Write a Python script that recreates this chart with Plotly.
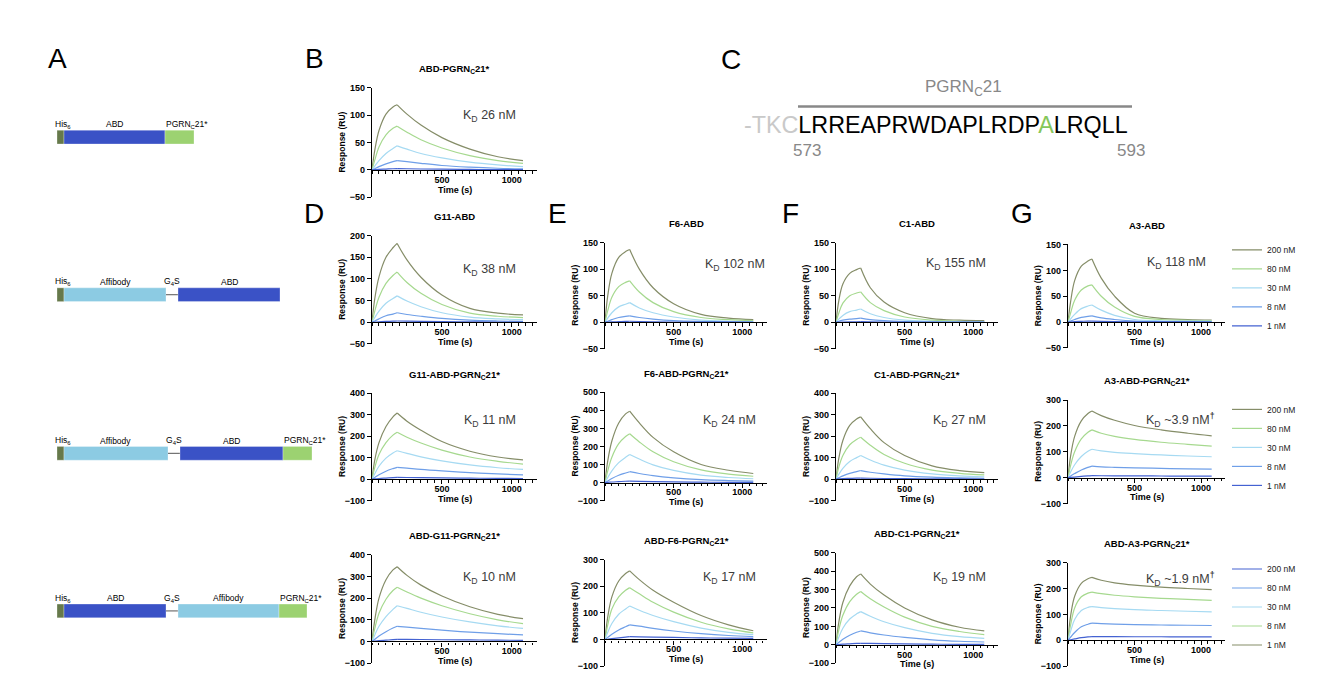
import plotly.graph_objects as go

# ---------------- DATA ----------------
TIME = [0, 20, 50, 100, 150, 180, 250, 350, 500, 700, 900, 1080]
CONC = ["200 nM", "80 nM", "30 nM", "8 nM", "1 nM"]
CONC_G4_LEGEND = ["1 nM", "8 nM", "30 nM", "80 nM", "200 nM"]  # as labelled in the original (reversed colours)

ABD_PGRN21 = [
    [0, 36, 72, 102, 115, 119, 102, 82, 59, 38, 24, 17],
    [0, 18, 42, 64, 76, 80, 69, 55, 40, 26, 17, 12],
    [0, 7, 17, 30, 39, 44, 38, 30, 22, 14, 9, 6],
    [0, 2, 6, 11, 15, 17, 15, 12, 8, 5, 3, 2],
    [0, 0.5, 1, 1.5, 2, 2.3, 2, 1.6, 1.2, 0.8, 0.5, 0.3],
]
G11_ABD = [
    [0, 55, 105, 150, 172, 182, 144, 104, 63, 32, 21, 17],
    [0, 26, 58, 90, 108, 116, 92, 67, 41, 21, 14, 11],
    [0, 11, 26, 44, 55, 61, 49, 36, 22, 12, 8, 6],
    [0, 3, 8, 15, 19, 22, 18, 14, 9, 5, 3, 2],
    [0, 0.5, 1, 2, 2.5, 3, 2.5, 2, 1.5, 1, 0.7, 0.5],
]
F6_ABD = [
    [0, 50, 92, 122, 133, 137, 100, 65, 35, 15, 8, 5],
    [0, 22, 47, 67, 75, 78, 57, 37, 20, 9, 5, 3],
    [0, 8, 18, 29, 34, 37, 27, 18, 10, 4, 2, 1.5],
    [0, 2, 5, 9, 11, 12, 9, 6, 3, 1.5, 1, 0.5],
    [0, 0.3, 0.7, 1.2, 1.6, 2, 1.5, 1, 0.6, 0.3, 0.2, 0.1],
]
C1_ABD = [
    [0, 40, 72, 92, 99, 102, 65, 38, 18, 7, 4, 3],
    [0, 17, 36, 50, 55, 57, 37, 22, 10, 4, 2, 1.5],
    [0, 6, 13, 20, 23, 25, 16, 9, 4, 2, 1, 0.7],
    [0, 2, 4, 6, 7, 8, 5, 3, 1.5, 0.7, 0.4, 0.3],
    [0, 0.3, 0.6, 0.9, 1, 1.1, 0.7, 0.4, 0.2, 0.1, 0.1, 0.1],
]
A3_ABD = [
    [0, 40, 80, 108, 118, 122, 85, 50, 17, 7, 5, 4],
    [0, 18, 42, 62, 70, 72, 50, 29, 11, 5, 3.5, 3],
    [0, 6, 15, 26, 31, 33, 23, 13, 5, 2.5, 2, 1.5],
    [0, 2, 5, 9, 11, 12, 8, 5, 2, 1, 0.8, 0.6],
    [0, 0.3, 0.8, 1.4, 1.8, 2, 1.4, 0.8, 0.4, 0.2, 0.2, 0.1],
]
G11_ABD_PGRN21 = [
    [0, 90, 170, 245, 290, 308, 270, 228, 175, 130, 103, 90],
    [0, 55, 115, 170, 205, 218, 195, 168, 135, 103, 83, 70],
    [0, 25, 60, 98, 122, 132, 120, 104, 85, 66, 53, 45],
    [0, 8, 20, 37, 49, 55, 51, 45, 38, 30, 24, 20],
    [0, 1, 3, 5, 7, 8, 7.5, 7, 6, 4.5, 3.5, 3],
]
F6_ABD_PGRN21 = [
    [0, 120, 230, 330, 380, 395, 330, 250, 170, 100, 68, 50],
    [0, 65, 140, 215, 255, 270, 225, 170, 115, 70, 47, 35],
    [0, 28, 65, 110, 140, 155, 130, 98, 67, 41, 28, 21],
    [0, 9, 22, 40, 53, 60, 50, 38, 26, 16, 11, 8],
    [0, 1, 3, 5, 7, 8, 7, 5, 3.5, 2, 1.5, 1],
]
C1_ABD_PGRN21 = [
    [0, 95, 180, 250, 280, 290, 235, 170, 110, 62, 40, 30],
    [0, 55, 110, 160, 185, 195, 158, 115, 74, 42, 27, 20],
    [0, 22, 50, 82, 100, 110, 89, 65, 42, 24, 15, 11],
    [0, 6, 15, 27, 35, 40, 32, 24, 15, 9, 6, 4],
    [0, 0.8, 2, 3.5, 4.5, 5, 4, 3, 2, 1.2, 0.8, 0.5],
]
A3_ABD_PGRN21 = [
    [0, 85, 160, 220, 248, 258, 240, 222, 202, 185, 172, 162],
    [0, 48, 100, 150, 176, 185, 172, 160, 148, 137, 129, 122],
    [0, 22, 50, 82, 102, 110, 104, 98, 93, 88, 84, 81],
    [0, 7, 16, 30, 40, 45, 42, 40, 38, 36, 34, 33],
    [0, 1, 2.5, 5, 7, 8, 7.5, 7, 7, 6.5, 6, 6],
]
ABD_G11_PGRN21 = [
    [0, 100, 200, 285, 330, 345, 305, 260, 210, 160, 125, 105],
    [0, 60, 130, 195, 235, 250, 228, 200, 165, 128, 100, 82],
    [0, 30, 70, 115, 148, 165, 153, 135, 113, 90, 72, 60],
    [0, 10, 25, 45, 62, 70, 66, 60, 52, 43, 36, 30],
    [0, 1.5, 3.5, 6, 8.5, 10, 9.5, 9, 8, 7, 6, 5],
]
ABD_F6_PGRN21 = [
    [0, 85, 160, 220, 248, 258, 225, 185, 140, 90, 55, 33],
    [0, 55, 115, 160, 185, 195, 172, 140, 103, 65, 40, 25],
    [0, 27, 60, 95, 115, 126, 110, 90, 67, 43, 27, 18],
    [0, 8, 20, 36, 48, 55, 50, 42, 32, 22, 15, 11],
    [0, 1, 3, 6, 9, 11, 10, 9, 8, 6, 5, 4],
]
ABD_C1_PGRN21 = [
    [0, 120, 230, 320, 370, 385, 330, 270, 200, 135, 95, 75],
    [0, 80, 160, 235, 275, 290, 250, 205, 150, 100, 72, 55],
    [0, 40, 90, 140, 168, 180, 155, 125, 93, 62, 44, 35],
    [0, 12, 30, 52, 68, 75, 65, 53, 40, 27, 19, 15],
    [0, 1, 3, 5, 7, 8, 7, 6, 4.5, 3, 2.5, 2],
]
ABD_A3_PGRN21 = [
    [0, 95, 170, 220, 238, 243, 232, 222, 213, 205, 200, 196],
    [0, 60, 125, 168, 182, 186, 180, 174, 168, 162, 158, 154],
    [0, 35, 80, 115, 127, 130, 126, 122, 118, 115, 112, 110],
    [0, 12, 30, 52, 62, 66, 64, 62, 60, 59, 58, 57],
    [0, 2, 5, 10, 13, 14, 14, 14, 13.5, 13.5, 13, 13],
]

TITLES = ["ABD-PGRN<sub>C</sub>21*", "G11-ABD", "F6-ABD", "C1-ABD", "A3-ABD",
          "G11-ABD-PGRN<sub>C</sub>21*", "F6-ABD-PGRN<sub>C</sub>21*", "C1-ABD-PGRN<sub>C</sub>21*",
          "A3-ABD-PGRN<sub>C</sub>21*", "ABD-G11-PGRN<sub>C</sub>21*", "ABD-F6-PGRN<sub>C</sub>21*",
          "ABD-C1-PGRN<sub>C</sub>21*", "ABD-A3-PGRN<sub>C</sub>21*"]
KD_TEXT = ["26 nM", "38 nM", "102 nM", "155 nM", "118 nM", "11 nM", "24 nM", "27 nM",
           "~3.9 nM<b><sup>†</sup></b>", "10 nM", "17 nM", "19 nM", "~1.9 nM<b><sup>†</sup></b>"]
DATASETS = [ABD_PGRN21, G11_ABD, F6_ABD, C1_ABD, A3_ABD, G11_ABD_PGRN21, F6_ABD_PGRN21,
            C1_ABD_PGRN21, A3_ABD_PGRN21, ABD_G11_PGRN21, ABD_F6_PGRN21, ABD_C1_PGRN21, ABD_A3_PGRN21]
Y_RANGES = [(-50, 150), (-50, 200), (-50, 150), (-50, 150), (-50, 150),
            (-100, 400), (-100, 500), (-100, 400), (-100, 300),
            (-100, 400), (-100, 300), (-100, 500), (-100, 300)]
Y_DTICK = [50, 50, 50, 50, 50, 100, 100, 100, 100, 100, 100, 100, 100]

# ---------------- LAYOUT / STYLE ----------------
W, H = 1320, 685          # target picture in pixels
OFF = 8                   # page body margin
FW, FH = W - 2 * OFF, H - 2 * OFF
FONT = "Arial, 'Liberation Sans', Helvetica, sans-serif"
COLORS = ["#858d68", "#a6d98f", "#a6daf2", "#6f9fe8", "#4462d2"]
COL_X = {"D": (372, 537), "E": (605, 767), "F": (836, 998), "G": (1068, 1225)}
# (column, top px, bottom px, KD right px, KD y px)
BOXES = [("D", 84, 195, 518, 113),
         ("D", 234, 344, 518, 269), ("E", 241, 349, 767, 264), ("F", 241, 349, 988, 263), ("G", 243, 348, 1208, 262),
         ("D", 394, 503, 518, 422), ("E", 393, 503, 758, 422), ("F", 394, 503, 988, 422), ("G", 401, 506, 1217, 421),
         ("D", 558, 668, 518, 582), ("E", 563, 671, 758, 582), ("F", 556, 668, 988, 582), ("G", 566, 671, 1217, 583)]
LEGEND_OF = {4: "legend", 8: "legend2", 12: "legend3"}


def px(x):
    return (x - OFF) / FW


def py(y):
    return 1 - (y - OFF) / FH


def ann(text, x, y, size, color="black", bold=False, xanchor="center", yanchor="middle", angle=0):
    return dict(text=text, x=px(x), y=py(y), xref="paper", yref="paper", showarrow=False,
                font=dict(family=FONT, size=size, color=color, weight="bold" if bold else "normal"),
                xanchor=xanchor, yanchor=yanchor, textangle=angle)


fig = go.Figure()
layout = dict(width=FW, height=FH, margin=dict(l=0, r=0, t=0, b=0), plot_bgcolor="white",
              paper_bgcolor="white", font=dict(family=FONT, color="black"), showlegend=True)
annotations = []
shapes = []

for i, data in enumerate(DATASETS):
    n = i + 1
    col, top, bot, kdx, kdy = BOXES[i]
    x0, x1 = COL_X[col]
    ymin, ymax = Y_RANGES[i]
    yd = [py(bot), py(top)]
    xpos = yd[0] + (0 - ymin) / (ymax - ymin) * (yd[1] - yd[0])
    xa = "xaxis" if n == 1 else f"xaxis{n}"
    ya = "yaxis" if n == 1 else f"yaxis{n}"
    xr = "x" if n == 1 else f"x{n}"
    yr = "y" if n == 1 else f"y{n}"
    layout[xa] = dict(domain=[px(x0), px(x1)], range=[0, 1180], anchor="free", position=xpos,
                      showline=True, linecolor="black", linewidth=1.3, ticks="outside", ticklen=4,
                      tickwidth=1.3, tickcolor="black", tickmode="array", tickvals=[500, 1000],
                      ticklabelstandoff=-3,
                      minor=dict(ticks="outside", tickmode="linear", tick0=0, dtick=50, ticklen=2.5,
                                 tickwidth=1, tickcolor="black", showgrid=False),
                      showgrid=False, zeroline=False,
                      tickfont=dict(family=FONT, size=9, weight="bold", color="black"))
    layout[ya] = dict(domain=yd, range=[ymin, ymax], anchor=xr, showline=True, linecolor="black",
                      linewidth=1.3, ticks="outside", ticklen=4, tickwidth=1.3, tickcolor="black",
                      tickmode="linear", tick0=0, dtick=Y_DTICK[i], showgrid=False, zeroline=False,
                      tickfont=dict(family=FONT, size=9, weight="bold", color="black"))
    names = CONC_G4_LEGEND if n == 13 else CONC
    for k, series in enumerate(data):
        show = i in LEGEND_OF
        legend_name = LEGEND_OF.get(i, "legend")
        fig.add_trace(go.Scatter(x=TIME[:6], y=series[:6], xaxis=xr, yaxis=yr, mode="lines",
                                 line=dict(color=COLORS[k], width=1.2, shape="spline"),
                                 name=names[k], showlegend=show, legend=legend_name,
                                 legendgroup=f"p{n}c{k}", hoverinfo="skip"))
        fig.add_trace(go.Scatter(x=TIME[5:], y=series[5:], xaxis=xr, yaxis=yr, mode="lines",
                                 line=dict(color=COLORS[k], width=1.2, shape="spline"),
                                 name=names[k], showlegend=False, legend=legend_name,
                                 legendgroup=f"p{n}c{k}", hoverinfo="skip"))
    zero_px = bot - (0 - ymin) / (ymax - ymin) * (bot - top)
    annotations.append(ann(TITLES[i], (x0 + x1) / 2, top - 19, 9.5, bold=True))
    annotations.append(ann("K<sub>D</sub> " + KD_TEXT[i], kdx, kdy, 12.5, color="#3c3c3c", xanchor="right"))
    annotations.append(ann("Response (RU)", x0 - 30, (top + bot) / 2, 8.5, bold=True, angle=-90))
    annotations.append(ann("Time (s)", (x0 + x1) / 2, zero_px + 20, 9, bold=True))

legend_common = dict(font=dict(family=FONT, size=8.5, color="#222"), bgcolor="rgba(0,0,0,0)",
                     borderwidth=0, itemwidth=30, xanchor="left", yanchor="middle", x=px(1227),
                     itemclick=False, itemdoubleclick=False)
layout["legend"] = dict(legend_common, y=py(287), traceorder="normal")
layout["legend2"] = dict(legend_common, y=py(449), traceorder="normal")
layout["legend3"] = dict(legend_common, y=py(611), traceorder="reversed")

# panel letters
for letter, x, y in [("A", 57, 54), ("B", 314, 54), ("C", 731, 55), ("D", 314, 212),
                     ("E", 557, 212), ("F", 790, 212), ("G", 1022, 212)]:
    annotations.append(ann(letter, x, y, 28))

# panel A: construct diagrams
HIS_C, ABD_C, AFF_C, PG_C = "#66794b", "#3a52c6", "#8ccbe3", "#9cd271"
CONSTRUCTS = [
    (127, [("His<sub>6</sub>", 57, 64, HIS_C), ("ABD", 64, 165, ABD_C), ("PGRN<sub>C</sub>21*", 165, 194, PG_C)]),
    (287, [("His<sub>6</sub>", 57, 64, HIS_C), ("Affibody", 64, 166, AFF_C), ("G<sub>4</sub>S", 166, 178, None),
           ("ABD", 178, 280, ABD_C)]),
    (448, [("His<sub>6</sub>", 57, 64, HIS_C), ("Affibody", 64, 168, AFF_C), ("G<sub>4</sub>S", 168, 180, None),
           ("ABD", 180, 283, ABD_C), ("PGRN<sub>C</sub>21*", 283, 312, PG_C)]),
    (608, [("His<sub>6</sub>", 57, 64, HIS_C), ("ABD", 64, 166, ABD_C), ("G<sub>4</sub>S", 166, 178, None),
           ("Affibody", 178, 279, AFF_C), ("PGRN<sub>C</sub>21*", 279, 307, PG_C)]),
]
for ytop, segs in CONSTRUCTS:
    for label, a, b, c in segs:
        if c is None:
            shapes.append(dict(type="line", xref="paper", yref="paper", x0=px(a), x1=px(b),
                               y0=py(ytop + 7), y1=py(ytop + 7), line=dict(color="#555", width=1)))
        else:
            shapes.append(dict(type="rect", xref="paper", yref="paper", x0=px(a), x1=px(b),
                               y0=py(ytop + 14), y1=py(ytop), fillcolor=c,
                               line=dict(color="rgba(255,255,255,0.6)", width=0.5)))
        if label.startswith("His"):
            annotations.append(ann(label, 53, ytop - 6, 8.5, xanchor="left"))
        elif label.startswith("PGRN"):
            annotations.append(ann(label, a - 1, ytop - 6, 8.5, xanchor="left"))
        else:
            annotations.append(ann(label, (a + b) / 2, ytop - 6, 8.5))

# panel C: sequence
annotations.append(ann("PGRN<sub>C</sub>21", 963, 84, 17, color="#888888"))
shapes.append(dict(type="line", xref="paper", yref="paper", x0=px(798), x1=px(1132),
                   y0=py(103), y1=py(103), line=dict(color="#888888", width=2.5)))
seq = ("<span style='color:#c9c9c9'>-TKC</span>LRREAPRWDAPLRDP"
       "<span style='color:#86c75a'>A</span>LRQLL")
annotations.append(ann(seq, 742, 122, 23.3, xanchor="left"))
annotations.append(ann("573", 807, 148, 17, color="#888888"))
annotations.append(ann("593", 1131, 148, 17, color="#888888"))

layout["annotations"] = annotations
layout["shapes"] = shapes
fig.update_layout(**layout)
fig.write_html("out.html")
